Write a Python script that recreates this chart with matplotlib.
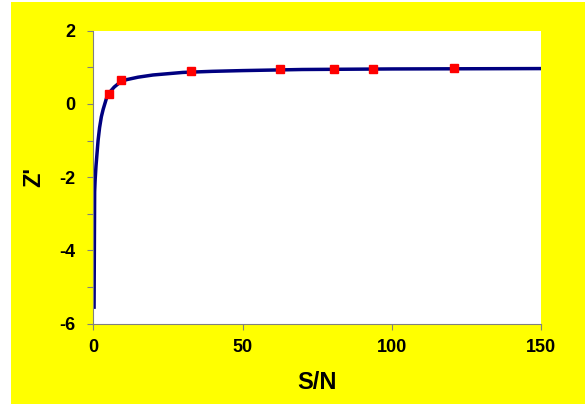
import matplotlib
matplotlib.use("Agg")
import matplotlib.pyplot as plt
from matplotlib.patches import Rectangle

# Fitted curve
curve_x = [0.25, 0.3, 0.35, 0.4, 0.45, 0.6, 0.9, 1.2, 1.6, 2.1, 2.7, 3.3, 4.4, 5.4, 7, 8.5,
           11, 15, 20, 30, 40, 50, 70, 100, 150]
curve_y = [-5.6, -4.8, -4.0, -3.2, -2.4, -2.1, -1.7, -1.4, -1.0, -0.65, -0.35, -0.15, 0.15,
           0.31, 0.46, 0.56, 0.66, 0.73, 0.79, 0.86, 0.89, 0.91, 0.94, 0.955, 0.965]

# Measured points
pts_x = [5.4, 9.2, 32.7, 62.7, 80.7, 93.7, 120.7]
pts_y = [0.28, 0.66, 0.90, 0.95, 0.95, 0.96, 0.975]

xticks = [0, 50, 100, 150]
yticks = [-6, -5, -4, -3, -2, -1, 0, 1, 2]
ytick_labels = ["-6", "", "-4", "", "-2", "", "0", "", "2"]

plt.rcParams['font.family'] = ['Liberation Sans', 'DejaVu Sans']

fig = plt.figure(figsize=(5.85, 4.04), dpi=100)
fig.patch.set_facecolor("white")
fig.patches.append(Rectangle((11 / 585, 0), 1, 1 - 2 / 404, transform=fig.transFigure,
                             facecolor="#FFFF00", edgecolor="none", zorder=-10))

ax = fig.add_axes([93.3 / 585, 1 - 323.5 / 404, (541 - 93.3) / 585, (323.5 - 30.7) / 404])
ax.set_facecolor("white")

ax.plot(curve_x, curve_y, color="#000080", lw=2.5, zorder=2, solid_capstyle="butt")
ax.plot(pts_x, pts_y, linestyle="none", marker="s", markersize=5.5, color="#FF0000",
        markeredgecolor="#FF0000", zorder=3)

ax.set_xlim(0, 150)
ax.set_ylim(-6, 2)
ax.set_xticks(xticks)
ax.set_yticks(yticks)
ax.set_yticklabels(ytick_labels)

for s in ["top", "right"]:
    ax.spines[s].set_visible(False)
for s in ["left", "bottom"]:
    ax.spines[s].set_color("#808080")
    ax.spines[s].set_linewidth(0.8)

ax.tick_params(axis="both", direction="out", length=4, width=0.8, color="#808080",
               labelsize=13)
ax.tick_params(axis="y", pad=9)
ax.tick_params(axis="x", pad=7)
for lab in ax.get_xticklabels() + ax.get_yticklabels():
    lab.set_fontweight("bold")

ax.set_xlabel("S/N", fontsize=17, fontweight="bold")
ax.set_ylabel("Z'", fontsize=17, fontweight="bold")
ax.xaxis.set_label_coords(0.5, -0.162)
ax.yaxis.set_label_coords(-0.108, 0.5)

fig.savefig("out.png", dpi=100, facecolor=fig.get_facecolor())
